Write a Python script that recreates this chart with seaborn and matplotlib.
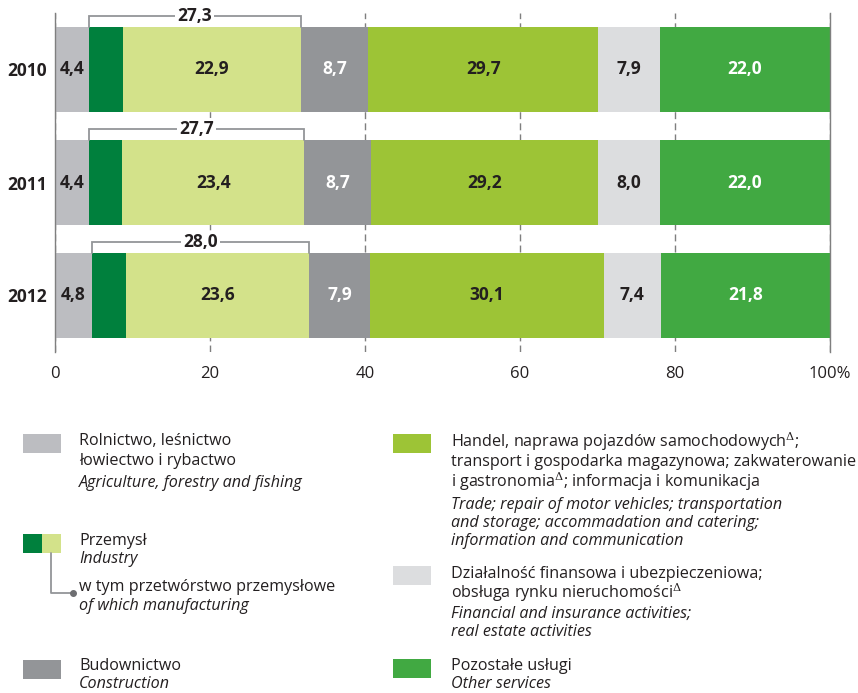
import numpy as np
import pandas as pd
import matplotlib
matplotlib.use('Agg')
import matplotlib.pyplot as plt
from matplotlib.patches import Rectangle
import seaborn as sns

# --- data (% share, current prices) ---
years = ['2010', '2011', '2012']
agri = [4.4, 4.4, 4.8]
industry_total = [27.3, 27.7, 28.0]
manufacturing = [22.9, 23.4, 23.6]
construction = [8.7, 8.7, 7.9]
trade = [29.7, 29.2, 30.1]
finance = [7.9, 8.0, 7.4]
other = [22.0, 22.0, 21.8]
tick_vals = [0, 20, 40, 60, 80, 100]
tick_labels = ['0', '20', '40', '60', '80', '100%']

industry_other = list(np.round(np.array(industry_total) - np.array(manufacturing), 1))

seg_names = ['agri', 'ind_other', 'manuf', 'constr', 'trade', 'fin', 'other']
seg_vals = [agri, industry_other, manufacturing, construction, trade, finance, other]
seg_colors = ['#bcbdc1', '#00803d', '#d3e28a', '#939598', '#9dc436', '#dcdddf', '#41a942']
seg_text = ['#231f20', None, '#231f20', 'white', '#231f20', '#231f20', 'white']

DARK = '#231f20'
GRAY = '#939598'

sns.set_theme(style='white')
plt.rcParams['font.family'] = ['Open Sans', 'DejaVu Sans']
plt.rcParams['mathtext.fontset'] = 'dejavuserif'

df = pd.DataFrame(dict(zip(seg_names, seg_vals)))
df['year'] = years
cum = df[seg_names].cumsum(axis=1)

fig = plt.figure(figsize=(8.58, 6.93), dpi=100)
ax = fig.add_axes([55 / 858, 1 - 352 / 693, 775 / 858, 339 / 693])

# stacked bars: draw cumulative totals from the right end back to the left
for name, col in zip(seg_names[::-1], seg_colors[::-1]):
    sns.barplot(x=cum[name], y=df['year'], orient='h', color=col, saturation=1,
                width=0.752, linewidth=0, ax=ax, zorder=2)

# value labels inside segments
for j, name in enumerate(seg_names):
    if seg_text[j] is None:
        continue
    for i in range(len(years)):
        v = df[name][i]
        xc = cum[name][i] - v / 2
        ax.text(xc, i, f'{v:.1f}'.replace('.', ','), ha='center', va='center',
                fontsize=12.5, fontweight='bold', color=seg_text[j], zorder=5)

# industry brackets
for i in range(len(years)):
    x0 = agri[i]
    x1 = agri[i] + industry_total[i]
    yb = i - 0.47
    yt = i - 0.376
    ax.plot([x0, x0, x1, x1], [yt, yb, yb, yt], color=GRAY, lw=1.3, zorder=3,
            solid_joinstyle='miter')
    ax.text((x0 + x1) / 2, yb, f'{industry_total[i]:.1f}'.replace('.', ','),
            ha='center', va='center', fontsize=12.5, fontweight='bold', color=DARK,
            zorder=4, bbox=dict(facecolor='white', edgecolor='none', pad=1.5))

ax.set_xlim(0, 100)
ax.set_ylim(2.5, -0.5)
ax.set_xlabel('')
ax.set_ylabel('')
ax.set_xticks(tick_vals)
ax.set_xticklabels(tick_labels, fontsize=12, color=DARK)
ax.tick_params(axis='x', length=0, pad=10)
ax.tick_params(axis='y', length=0, pad=6)
for lab in ax.get_yticklabels():
    lab.set_fontweight('bold')
    lab.set_fontsize(12.5)
    lab.set_color(DARK)

ax.set_axisbelow(True)
ax.xaxis.grid(True, color='#7f7f7f', lw=1, linestyle=(0, (5, 3)))
ax.yaxis.grid(False)
for s in ['top', 'bottom']:
    ax.spines[s].set_visible(False)
for s in ['left', 'right']:
    ax.spines[s].set_visible(True)
    ax.spines[s].set_color('#7f7f7f')
    ax.spines[s].set_linewidth(1)

# --- legend drawn in figure pixel space ---
lax = fig.add_axes([0, 0, 1, 1])
lax.set_xlim(0, 858)
lax.set_ylim(693, 0)
lax.axis('off')
lax.patch.set_alpha(0)


def box(x, y, w, h, c):
    lax.add_patch(Rectangle((x, y), w, h, facecolor=c, edgecolor='none'))


def lines(x, items):
    for y, s, it in items:
        lax.text(x, y, s, fontsize=11.6, color=DARK, va='center', ha='left',
                 style='italic' if it else 'normal')


LX, RX = 79, 451
D = r'$^{\Delta}$'
box(23, 434, 38, 19, seg_colors[0])
lines(LX, [(441, 'Rolnictwo, leśnictwo', False),
           (461, 'łowiectwo i rybactwo', False),
           (483, 'Agriculture, forestry and fishing', True)])

box(23, 534, 19, 19, seg_colors[1])
box(42, 534, 19, 19, seg_colors[2])
lines(LX, [(541, 'Przemysł', False),
           (559, 'Industry', True),
           (587, 'w tym przetwórstwo przemysłowe', False),
           (606, 'of which manufacturing', True)])
lax.plot([51, 51, 73], [553, 593, 593], color=GRAY, lw=1.3)
lax.plot([73], [593], 'o', color='#6d6e71', ms=4)

box(23, 660, 38, 19, seg_colors[3])
lines(LX, [(666, 'Budownictwo', False),
           (684, 'Construction', True)])

box(393, 434, 38, 19, seg_colors[4])
lines(RX, [(442, 'Handel, naprawa pojazdów samochodowych' + D + ';', False),
           (462, 'transport i gospodarka magazynowa; zakwaterowanie', False),
           (482, 'i gastronomia' + D + '; informacja i komunikacja', False),
           (505, 'Trade; repair of motor vehicles; transportation', True),
           (523, 'and storage; accommadation and catering;', True),
           (541, 'information and communication', True)])

box(393, 566, 38, 19, seg_colors[5])
lines(RX, [(574, 'Działalność finansowa i ubezpieczeniowa;', False),
           (593, 'obsługa rynku nieruchomości' + D, False),
           (614, 'Financial and insurance activities;', True),
           (632, 'real estate activities', True)])

box(393, 659, 38, 19, seg_colors[6])
lines(RX, [(666, 'Pozostałe usługi', False),
           (684, 'Other services', True)])

plt.savefig('out.png', dpi=100)
plt.close()
